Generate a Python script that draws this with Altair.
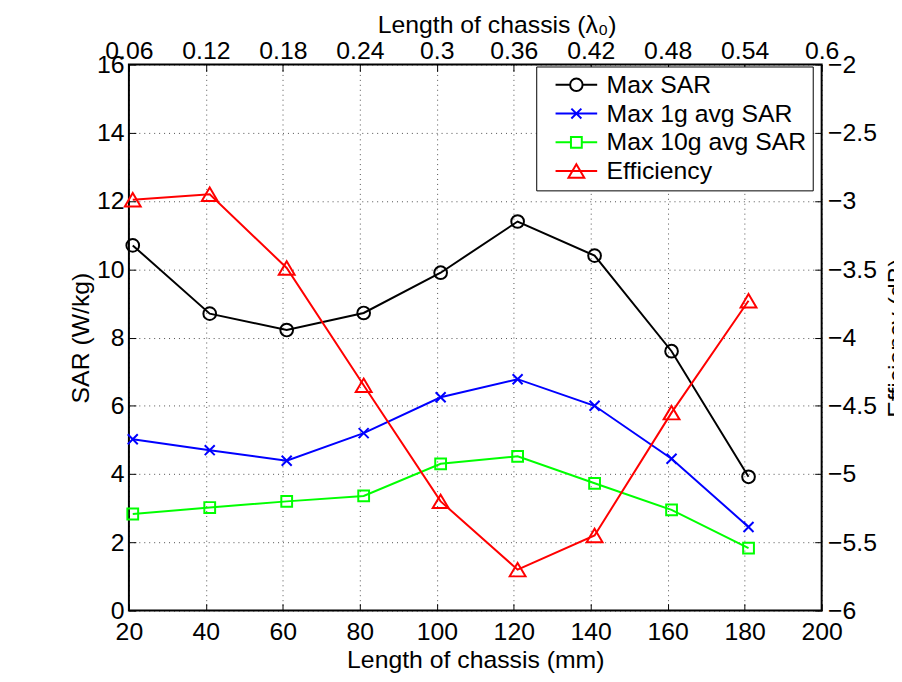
import altair as alt
import pandas as pd

# ---- data ----
length_mm = [21, 41, 61, 81, 101, 121, 141, 161, 181]
max_sar = [10.7, 8.7, 8.22, 8.72, 9.9, 11.4, 10.4, 7.6, 3.92]
max_1g_sar = [5.02, 4.7, 4.39, 5.2, 6.25, 6.78, 6.0, 4.45, 2.45]
max_10g_sar = [2.83, 3.02, 3.2, 3.36, 4.3, 4.52, 3.73, 2.95, 1.83]
efficiency_db = [-2.99, -2.95, -3.49, -4.35, -5.2, -5.7, -5.45, -4.55, -3.73]

series_names = ["Max SAR", "Max 1g avg SAR", "Max 10g avg SAR", "Efficiency"]
series_colors = ["#000000", "#0000ff", "#00ff00", "#ff0000"]

x_ticks = [20, 40, 60, 80, 100, 120, 140, 160, 180, 200]
sar_ticks = [0, 2, 4, 6, 8, 10, 12, 14, 16]
eff_ticks = [-6, -5.5, -5, -4.5, -4, -3.5, -3, -2.5, -2]

# ---- tables ----
rows = []
for name, vals in zip(series_names[:3], [max_sar, max_1g_sar, max_10g_sar]):
    for x, v in zip(length_mm, vals):
        rows.append({"length": x, "value": v, "series": name})
sar_df = pd.DataFrame(rows)
eff_df = pd.DataFrame({"length": length_mm, "value": efficiency_db, "series": "Efficiency"})
legend_df = pd.DataFrame({"series": series_names, "none": [None] * 4})

# marker shapes (unit box, drawn at size 256 -> 8 px per unit)
marker_paths = [
    "M -0.8 0 A 0.8 0.8 0 1 0 0.8 0 A 0.8 0.8 0 1 0 -0.8 0 Z",
    "M -0.63 -0.63 L 0.63 0.63 M -0.63 0.63 L 0.63 -0.63",
    "M -0.68 -0.68 H 0.68 V 0.68 H -0.68 Z",
    "M 0 -0.85 L 1 0.85 L -1 0.85 Z",
]
# legend symbols: line + marker (drawn at size 196 -> 7 px per unit, line 42 px long)
legend_paths = [
    "M -3 0 H -0.9 M 0.9 0 H 3 M -0.9 0 A 0.9 0.9 0 1 0 0.9 0 A 0.9 0.9 0 1 0 -0.9 0 Z",
    "M -3 0 H 3 M -0.72 -0.72 L 0.72 0.72 M -0.72 0.72 L 0.72 -0.72",
    "M -3 0 H -0.78 M 0.78 0 H 3 M -0.78 -0.78 H 0.78 V 0.78 H -0.78 Z",
    "M -3 0 H 3 M 0 -0.97 L 1.14 0.97 L -1.14 0.97 Z",
]

FS = 25
x_scale = alt.Scale(domain=[20, 200], nice=False, zero=False)
sar_scale = alt.Scale(domain=[0, 16], nice=False, zero=False)
eff_scale = alt.Scale(domain=[-6, -2], nice=False, zero=False)
color_scale = alt.Scale(domain=series_names, range=series_colors)
shape_scale = alt.Scale(domain=series_names, range=marker_paths)
legend_shape_scale = alt.Scale(domain=series_names, range=legend_paths)

grid_props = dict(grid=True, gridDash=[1, 4], gridColor="#000000", gridOpacity=0.7, gridWidth=1)
label_props = dict(labelFontSize=FS, labelColor="#000000", labelOverlap=False, labelFlush=False,
                   labelBound=False, titleFontSize=FS, titleColor="#000000", titleFontWeight="normal")
tick_only = dict(labels=False, domain=False, grid=False, ticks=True, tickSize=7, offset=-7,
                 tickColor="#000000", tickWidth=1, title=None)

bottom_axis = alt.Axis(orient="bottom", values=x_ticks, title="Length of chassis (mm)",
                       ticks=False, tickSize=0, domain=False, labelPadding=9, titlePadding=3,
                       **grid_props, **label_props)
top_axis = alt.Axis(orient="top", values=x_ticks, title="Length of chassis (λ₀)",
                    labelExpr="format(datum.value * 0.003, '.2~f')",
                    ticks=False, tickSize=0, domain=False, grid=False, labelPadding=1,
                    titlePadding=1, titleX=371, titleAlign="center", **label_props)
left_axis = alt.Axis(orient="left", values=sar_ticks, title="SAR (W/kg)", format="d",
                     ticks=False, tickSize=0, domain=False, labelPadding=5, titlePadding=3,
                     **grid_props, **label_props)
right_axis = alt.Axis(orient="right", values=eff_ticks, title="Efficiency (dB)",
                      format=".1~f", ticks=False, tickSize=0, domain=False, grid=False,
                      labelPadding=6, titleAngle=270, titleX=64, titleY=275.5,
                      titleAlign="center", titleBaseline="top", **label_props)

sar_line = alt.Chart(sar_df).mark_line(strokeWidth=2).encode(
    x=alt.X("length:Q", scale=x_scale, axis=bottom_axis),
    y=alt.Y("value:Q", scale=sar_scale, axis=left_axis),
    color=alt.Color("series:N", scale=color_scale, legend=None),
)
sar_pts = alt.Chart(sar_df).mark_point(filled=False, size=256, strokeWidth=2, opacity=1).encode(
    x=alt.X("length:Q", scale=x_scale, axis=alt.Axis(orient="bottom", values=x_ticks, **tick_only)),
    y=alt.Y("value:Q", scale=sar_scale, axis=alt.Axis(orient="left", values=sar_ticks, **tick_only)),
    color=alt.Color("series:N", scale=color_scale, legend=None),
    shape=alt.Shape("series:N", scale=shape_scale, legend=None),
)
eff_line = alt.Chart(eff_df).mark_line(strokeWidth=2, color="#ff0000").encode(
    x=alt.X("length:Q", scale=x_scale, axis=top_axis),
    y=alt.Y("value:Q", scale=eff_scale, axis=right_axis),
)
eff_pts = alt.Chart(eff_df).mark_point(filled=False, size=256, strokeWidth=2, opacity=1).encode(
    x=alt.X("length:Q", scale=x_scale, axis=alt.Axis(orient="top", values=x_ticks, **tick_only)),
    y=alt.Y("value:Q", scale=eff_scale, axis=alt.Axis(orient="right", values=eff_ticks, **tick_only)),
    color=alt.Color("series:N", scale=color_scale, legend=None),
    shape=alt.Shape("series:N", scale=shape_scale, legend=None),
)

legend_props = dict(orient="none", legendX=411, legendY=2, title=None, labelFontSize=FS,
                    labelColor="#000000", labelLimit=500, symbolSize=196, symbolStrokeWidth=2,
                    strokeColor="#000000", fillColor="#ffffff", padding=6,
                    symbolOffset=22, labelOffset=18, rowPadding=3,
                    labelExpr="datum.label + '\u00a0\u00a0\u00a0'")
legend_layer = alt.Chart(legend_df).mark_point(filled=False, strokeWidth=2, opacity=1).encode(
    x=alt.X("none:Q", scale=x_scale, axis=None),
    color=alt.Color("series:N", scale=color_scale, legend=alt.Legend(**legend_props)),
    shape=alt.Shape("series:N", scale=legend_shape_scale, legend=alt.Legend(**legend_props)),
)

chart = alt.layer(sar_line, sar_pts, eff_line, eff_pts, legend_layer).resolve_scale(
    y="independent", color="independent", shape="independent"
).resolve_axis(x="independent").properties(
    width=699, height=551,
    autosize=alt.AutoSizeParams(type="none"),
    padding={"left": 122, "top": 54, "right": 73, "bottom": 65},
    background="#ffffff",
).configure(font="Liberation Sans").configure_view(stroke="#000000", strokeWidth=2)

chart.save("out.html", embed_options={"renderer": "svg", "actions": False})
